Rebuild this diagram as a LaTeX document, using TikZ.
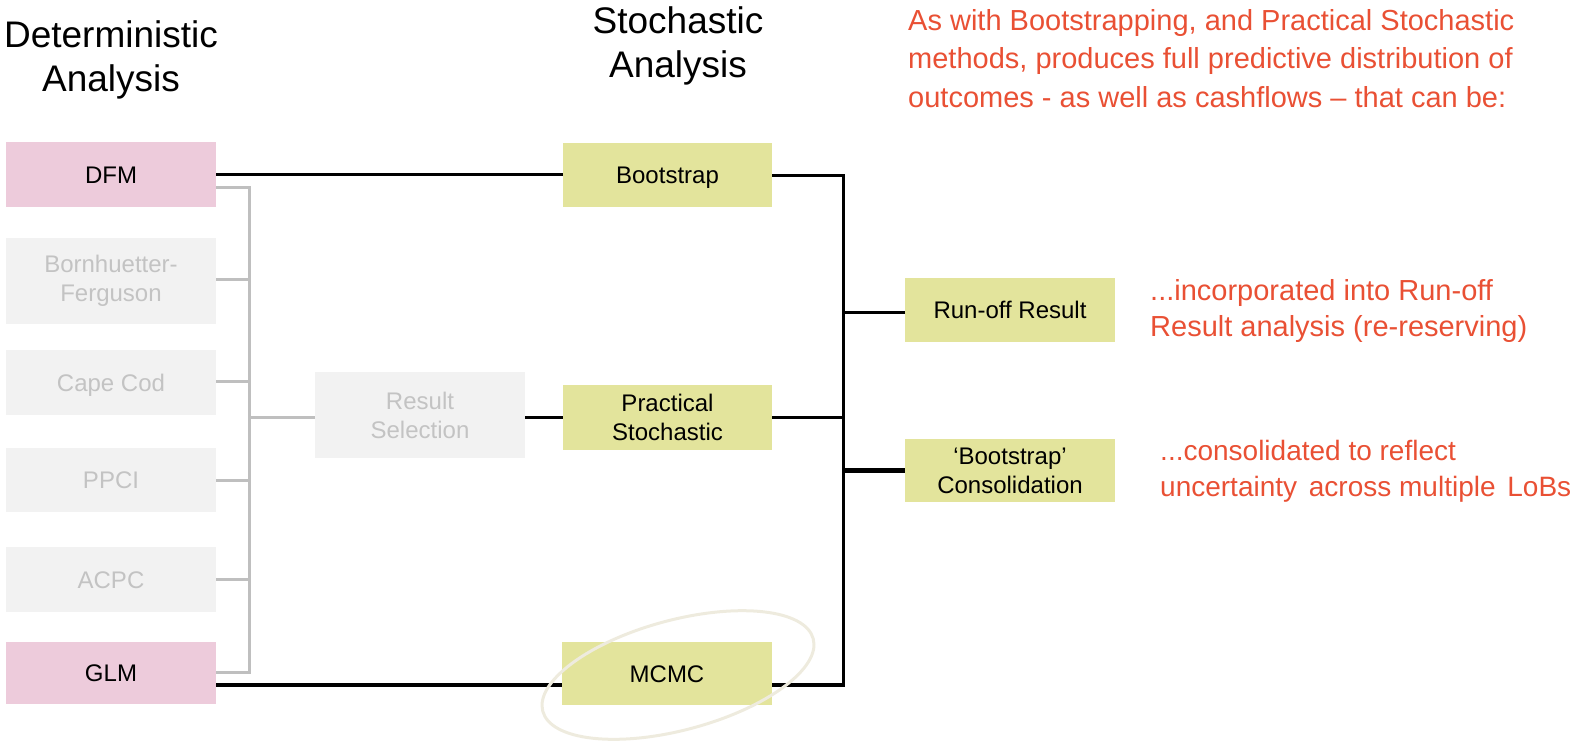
\documentclass[tikz,border=0pt]{standalone}
\usepackage{fontspec}
\setmainfont{Liberation Sans}
\usetikzlibrary{shapes.geometric}
\definecolor{pinkc}{RGB}{237,203,219}
\definecolor{grayfill}{RGB}{242,242,242}
\definecolor{graytext}{RGB}{195,195,195}
\definecolor{grayline}{RGB}{191,191,191}
\definecolor{yel}{RGB}{227,228,156}
\definecolor{redc}{RGB}{233,80,52}
\definecolor{ellc}{RGB}{238,235,222}
\begin{document}
\begin{tikzpicture}[x=1pt,y=-1pt,
  box/.style={minimum width=210pt, inner sep=0pt, align=center, font=\fontsize{24}{29}\selectfont},
  one/.style={text height=17.2pt, text depth=0pt},
  pinkbox/.style={box, fill=pinkc},
  graybox/.style={box, fill=grayfill, text=graytext},
  ybox/.style={box, fill=yel},
  blk/.style={line width=3pt, black},
  blkthick/.style={line width=4.5pt, black},
  gln/.style={line width=3pt, grayline},
  title/.style={font=\fontsize{37}{44}\selectfont, align=center, inner sep=0pt},
  note/.style={font=\fontsize{29}{38.5}\selectfont, text=redc, align=left, inner sep=0pt},
  hilite/.style={ellipse, draw=ellc, line width=3pt, minimum width=280pt, minimum height=110pt, inner sep=0pt}
]
\path[use as bounding box] (0,0) rectangle (1586,740);

% titles and notes
\node[title, anchor=north] (det) at (111,20.5) {Deterministic\\Analysis};
\node[title, anchor=north] (sto) at (678,6) {Stochastic\\Analysis};
\node[note, anchor=north west] (n1) at (908,9) {As with Bootstrapping, and Practical Stochastic\\methods, produces full predictive distribution of\\outcomes - as well as cashflows – that can be:};
\node[note, anchor=north west, font=\fontsize{29}{36}\selectfont] (n2) at (1150,279) {...incorporated into Run-off\\Result analysis (re-reserving)};
\node[note, anchor=north west, font=\fontsize{28}{36}\selectfont] (n3) at (1160,439.5) {...consolidated to reflect\\uncertainty\hspace{4pt} across multiple\hspace{4pt} LoBs};

% boxes
\node[pinkbox, one, minimum height=65pt] (dfm) at (111,174.5) {DFM};
\node[graybox, minimum height=86pt] (bf) at (111,280.5) {Bornhuetter-\\Ferguson};
\node[graybox, one, minimum height=65pt] (cc) at (111,382.5) {Cape Cod};
\node[graybox, one, minimum height=64pt] (ppci) at (111,480) {PPCI};
\node[graybox, one, minimum height=65pt] (acpc) at (111,579.5) {ACPC};
\node[pinkbox, one, minimum height=62pt] (glm) at (111,673) {GLM};
\node[graybox, minimum height=86pt] (rs) at (420,415) {Result\\Selection};
\node[ybox, one, minimum height=64pt, minimum width=209pt] (boot) at (667.5,175) {Bootstrap};
\node[ybox, minimum height=65pt, minimum width=209pt] (prac) at (667.5,417) {Practical\\Stochastic};
\node[ybox, one, minimum height=63pt] (mcmc) at (667,673.5) {MCMC};
\node[ybox, one, minimum height=64pt] (ro) at (1010,310) {Run-off Result};
\node[ybox, minimum height=63pt] (cons) at (1010,470.5) {‘Bootstrap’\\Consolidation};

% grey bracket
\coordinate (gt) at (249,187);
\coordinate (gb) at (249,672);
\draw[gln] ([yshift=-12.5pt]dfm.east) -- (gt) -- (gb) -- ([yshift=1pt]glm.east);
\draw[gln] ([yshift=1.5pt]bf.east) -- ([yshift=1.5pt]bf.east -| gt);
\draw[gln] ([yshift=1.5pt]cc.east) -- ([yshift=1.5pt]cc.east -| gt);
\draw[gln] (ppci.east) -- (ppci.east -| gt);
\draw[gln] (acpc.east) -- (acpc.east -| gt);
\draw[gln] ([yshift=-2pt]rs.west -| gt) -- ([yshift=-2pt]rs.west);

% black connectors
\coordinate (vt) at (843,175);
\coordinate (vb) at (843,685);
\draw[blk] (dfm.east) -- (dfm.east -| boot.west);
\draw[blk] ([yshift=-2pt]rs.east) -- (prac.west);
\draw[blk] (boot.east) -- (vt) -- (vb);
\draw[blk] ([yshift=-2pt]ro.west -| vt) -- ([yshift=-2pt]ro.west);
\draw[blk] (prac.east) -- (prac.east -| vt);
\draw[blkthick] (cons.west -| vt) -- (cons.west);
\draw[blkthick] ([yshift=-12pt]glm.east) -- ([yshift=-11.5pt]mcmc.west);
\draw[blkthick] ([yshift=-11.5pt]mcmc.east) -- ([xshift=1.5pt]vb);

% highlight
\node[hilite, rotate=15] (hl) at (678,675) {};
\end{tikzpicture}
\end{document}
